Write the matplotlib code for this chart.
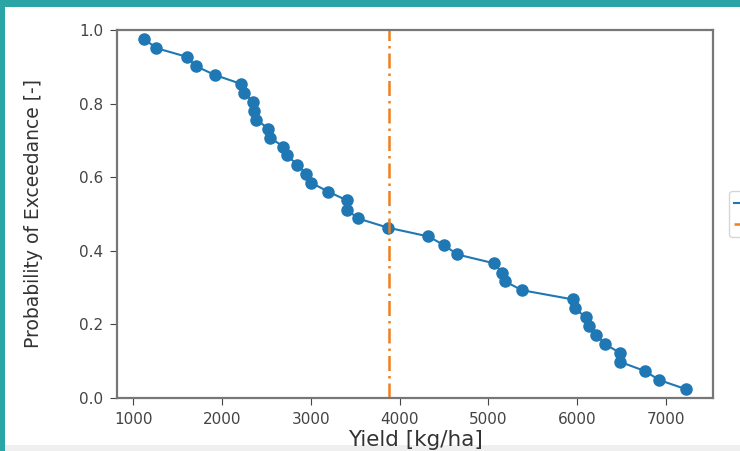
import matplotlib.pyplot as plt
from matplotlib.patches import Rectangle

# yields, sorted ascending [kg/ha]
yields = [1123, 1258, 1605, 1705, 1918, 2209, 2243, 2355, 2366, 2389,
          2523, 2545, 2691, 2736, 2848, 2948, 3004, 3195, 3408, 3408,
          3531, 3867, 4326, 4505, 4651, 5065, 5155, 5188, 5378, 5950,
          5972, 6095, 6140, 6218, 6319, 6487, 6487, 6767, 6924, 7226]

# probability of exceedance for each yield
prob_exceed = [0.976, 0.951, 0.927, 0.902, 0.878, 0.854, 0.829, 0.805, 0.780, 0.756,
               0.732, 0.707, 0.683, 0.659, 0.634, 0.610, 0.585, 0.561, 0.537, 0.512,
               0.488, 0.463, 0.439, 0.415, 0.390, 0.366, 0.341, 0.317, 0.293, 0.268,
               0.244, 0.220, 0.195, 0.171, 0.146, 0.122, 0.098, 0.073, 0.049, 0.024]

mean_yield = 3880

x_ticks = [1000, 2000, 3000, 4000, 5000, 6000, 7000]
y_ticks = [0.0, 0.2, 0.4, 0.6, 0.8, 1.0]

fig = plt.figure(figsize=(7.4, 4.51), dpi=100)
fig.patch.set_facecolor('#2aa5a5')

# white page inside the teal frame, light grey strip at the bottom
fig.add_artist(Rectangle((5/740, 0), 1, 1 - 7/451, transform=fig.transFigure,
                         facecolor='white', edgecolor='none', zorder=-10))
fig.add_artist(Rectangle((5/740, 0), 1, 6/451, transform=fig.transFigure,
                         facecolor='#efefef', edgecolor='none', zorder=-9))

ax = fig.add_axes([117/740, 1 - 398/451, (713 - 117)/740, (398 - 30)/451])

ax.plot(yields, prob_exceed, '-o', color='#1f77b4', markersize=8, linewidth=1.5)
ax.axvline(mean_yield, color='#f07f1e', linestyle=(0, (6, 2, 1, 2)), linewidth=1.8)

ax.set_ylim(0, 1.0)
ax.set_xticks(x_ticks)
ax.set_yticks(y_ticks)
ax.tick_params(labelsize=11, colors='#444444', length=5, pad=5)

for s in ax.spines.values():
    s.set_color('#777777')
    s.set_linewidth(1.6)

ax.set_xlabel('Yield [kg/ha]', fontsize=15.5, color='#333333', labelpad=2)
ax.set_ylabel('Probability of Exceedance [-]', fontsize=13.5, color='#333333',
              labelpad=26)

# legend sits outside the axes and is cut by the figure edge, only the handles show
ax.legend(ax.get_lines(), ['', ''], loc='center left',
          bbox_to_anchor=(1.015, 0.5), fontsize=10)

fig.savefig('out.png', dpi=100, facecolor=fig.get_facecolor())
